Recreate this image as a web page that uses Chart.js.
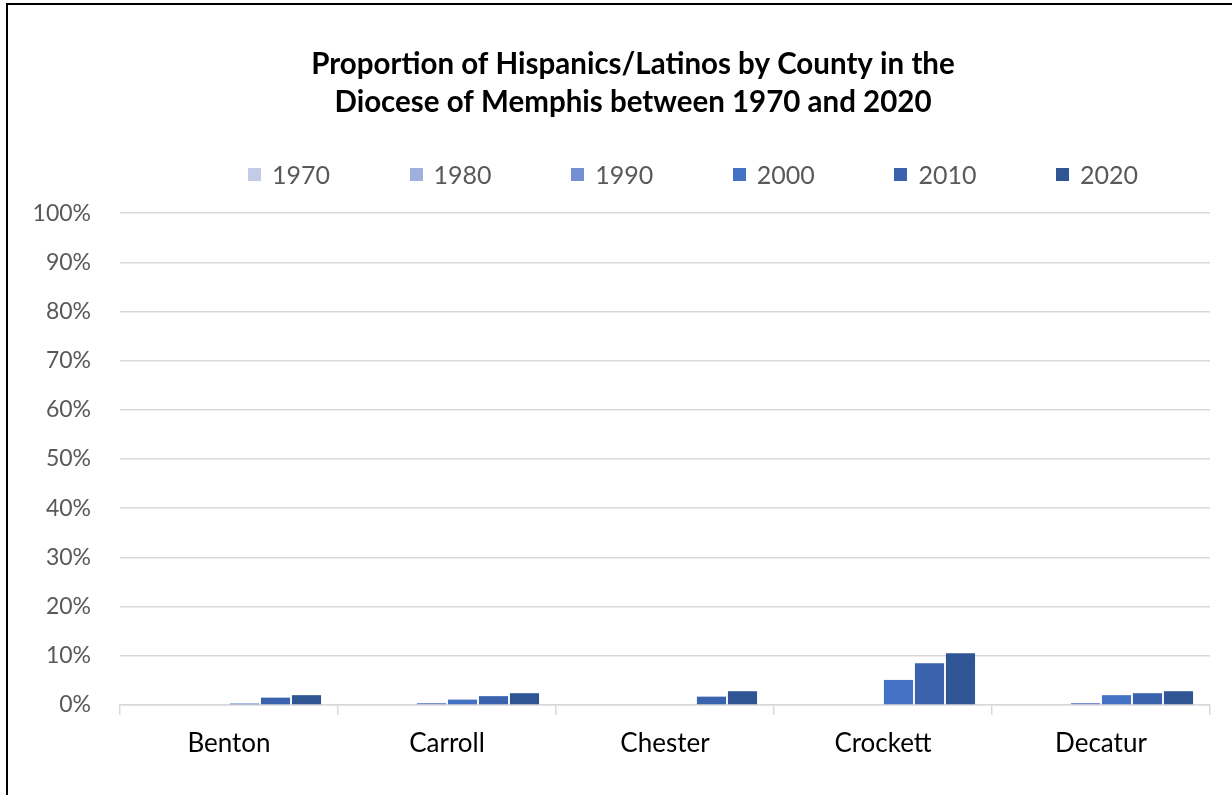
<!DOCTYPE html>
<html>
<head>
<meta charset="utf-8">
<script src="https://cdn.jsdelivr.net/npm/chart.js@4.4.1/dist/chart.umd.min.js"></script>
<style>
    body { margin: 0; background: #fff; }
    #wrap {
        position: absolute; left: 6px; top: 3px;
        width: 1226px; height: 792px;
        border-left: 2px solid #000; border-top: 2px solid #000;
    }
    #legend {
        position: absolute; left: 240px; top: 154px;
        display: flex; font-family: Lato, sans-serif; font-size: 25px; color: #595959;
    }
    #legend div { width: 161.6px; display: flex; align-items: center; }
    #legend span { display: inline-block; width: 13px; height: 13px; margin-right: 11px; }
</style>
</head>
<body>
<div id="wrap">
    <canvas id="hispanicChart" width="1226" height="790"></canvas>
    <div id="legend"></div>
</div>
<script>
// Datos del gráfico (porcentaje)
const condados = ['Benton', 'Carroll', 'Chester', 'Crockett', 'Decatur'];
const anios = ['1970', '1980', '1990', '2000', '2010', '2020'];
const colores = ['#c3cbe6', '#9fb0dc', '#7490d2', '#4472c4', '#3a62ad', '#2f5594'];

const datos1970 = [0, 0, 0, 0, 0];
const datos1980 = [0, 0, 0, 0, 0];
const datos1990 = [0, 0.4, 0, 0, 0.4];
const datos2000 = [0.3, 1.1, 0, 5.1, 2.0];
const datos2010 = [1.5, 1.8, 1.7, 8.5, 2.4];
const datos2020 = [2.0, 2.4, 2.8, 10.5, 2.8];

const etiquetasY = ['0%', '10%', '20%', '30%', '40%', '50%', '60%', '70%', '80%', '90%', '100%'];

const series = [datos1970, datos1980, datos1990, datos2000, datos2010, datos2020];

const ctx = document.getElementById('hispanicChart').getContext('2d');

new Chart(ctx, {
    type: 'bar',
    data: {
        labels: condados,
        datasets: series.map((valores, i) => ({
            label: anios[i],
            data: valores,
            backgroundColor: colores[i],
            borderWidth: 0,
            categoryPercentage: 0.853,
            barPercentage: 0.94
        }))
    },
    options: {
        responsive: false,
        animation: false,
        layout: { padding: { left: 0, right: 24, top: 0, bottom: 0 } },
        plugins: {
            legend: { display: false },
            tooltip: { enabled: false },
            title: {
                display: true,
                text: ['Proportion of Hispanics/Latinos by County in the', 'Diocese of Memphis between 1970 and 2020'],
                color: '#000',
                font: { family: 'Lato', size: 29.5, weight: 'bold', lineHeight: 1.29 },
                padding: { top: 40, bottom: 92 }
            }
        },
        scales: {
            x: {
                grid: { offset: true, drawOnChartArea: false, tickLength: 10, color: '#d9d9d9', lineWidth: 1.5 },
                border: { color: '#d9d9d9', width: 1.5 },
                ticks: { color: '#000', font: { family: 'Lato', size: 26 }, padding: 13 },
                afterFit: scale => { scale.height = 90; }
            },
            y: {
                min: 0,
                max: 100,
                grid: { color: '#d9d9d9', lineWidth: 1.5, drawTicks: false },
                border: { display: false },
                ticks: {
                    stepSize: 10,
                    color: '#595959',
                    font: { family: 'Lato', size: 23 },
                    padding: 29,
                    callback: (v, i) => etiquetasY[i]
                },
                afterFit: scale => { scale.width = 112; }
            }
        }
    },
    plugins: [{
        id: 'leyendaHTML',
        beforeInit: function(chart) {
            const contenedor = document.getElementById('legend');
            let html = '';
            chart.data.datasets.forEach(ds => {
                html += `<div><span style="background-color:${ds.backgroundColor}"></span>${ds.label}</div>`;
            });
            contenedor.innerHTML = html;
        }
    }, {
        // el título del original está algo desplazado a la derecha
        id: 'moverTitulo',
        afterLayout: function(chart) {
            chart.titleBlock.left += 24;
            chart.titleBlock.right += 24;
        }
    }]
});
</script>
</body>
</html>
